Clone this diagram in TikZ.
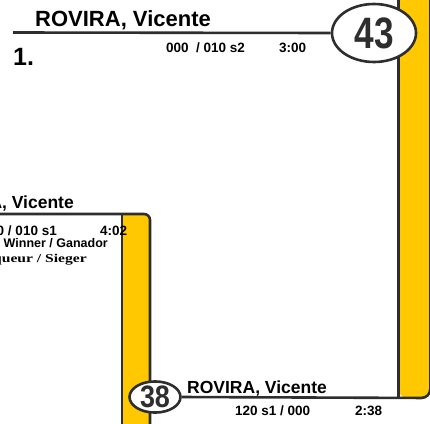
\documentclass[tikz,border=0pt]{standalone}
\usepackage{fontspec}
\setmainfont{Liberation Sans}
\newfontfamily\serifb{Liberation Serif}
\usetikzlibrary{shapes.geometric}
\definecolor{barY}{HTML}{FFC800}
\definecolor{lineD}{HTML}{2E2E2E}
\tikzset{
  frame/.style={draw=lineD, line width=2.6pt},
  namet/.style={inner sep=0pt, font=\fontsize{#1}{#1}\selectfont\bfseries},
  small/.style={inner sep=0pt, font=\fontsize{13.5}{13.5}\selectfont\bfseries},
  numell/.style={draw=lineD, line width=2.6pt, fill=white, ellipse, inner sep=0pt}
}
\begin{document}
\begin{tikzpicture}[x=1pt,y=-1pt]
\useasboundingbox (0,0) rectangle (430,423);
\clip (0,0) rectangle (430,423);
% right yellow bar
\fill[barY, rounded corners=9pt] (398.5,-20) rectangle (430,398);
\draw[frame] (398.5,-20) -- (398.5,398);
% left yellow bar
\fill[barY] (122,214) [rounded corners=6pt] -- (150,214) [sharp corners] -- (150,440) -- (122,440) -- cycle;
\coordinate (lt) at (-10,214);
\coordinate (lb) at (150,440);
\draw[frame, rounded corners=6pt] (lt) -- (150,214) -- (lb);
\draw[frame] (122,214) -- (122,440);
% ellipses
\node[numell, minimum width=84pt, minimum height=58pt] (e43) at (374,33)
  {\fontsize{44}{44}\selectfont\bfseries\color{lineD}\scalebox{0.8}[1]{43}};
\node[numell, minimum width=51pt, minimum height=29pt] (e38) at (155,397)
  {\fontsize{31}{31}\selectfont\bfseries\color{lineD}\scalebox{0.87}[1]{38}};
% connectors
\coordinate (tl) at (13,32.5);
\draw[frame] (tl) -- (e43.west);
\coordinate (rb) at (430.3,-20);
\draw[frame, rounded corners=9pt] (e38.east) -- (430.3,398) -- (rb);
% top entry
\node[namet=22, anchor=base west] (n1) at (35,26) {ROVIRA, Vicente};
\node[inner sep=0pt, font=\fontsize{25}{25}\selectfont\bfseries, anchor=base west] (rank) at (13,65) {1.};
\node[small, anchor=base west] (s1) at (166,52) {000~ / 010 s2};
\node[small, anchor=base west] (t1) at (279,52) {3:00};
% left entry
\node[namet=17.5, anchor=base east] (n2) at (74,208) {ROVIRA, Vicente};
\node[small, anchor=base east] (s2) at (57,235) {000 / 010 s1};
\node[small, anchor=base west] (t2) at (100,235) {4:02};
\node[inner sep=0pt, font=\fontsize{12.5}{12.5}\selectfont\bfseries, anchor=base east] (w1) at (108,247) {Winner / Ganador};
\node[inner sep=0pt, font=\fontsize{12}{12}\selectfont\serifb\bfseries, anchor=base east] (w2) at (87,262) {\scalebox{1.3}[1]{Vainqueur / Sieger}};
% bottom entry
\node[namet=17.5, anchor=base west] (n3) at (187,393) {ROVIRA, Vicente};
\node[small, anchor=base west] (s3) at (235,415) {120 s1 / 000};
\node[small, anchor=base west] (t3) at (355,415) {2:38};
\end{tikzpicture}
\end{document}
